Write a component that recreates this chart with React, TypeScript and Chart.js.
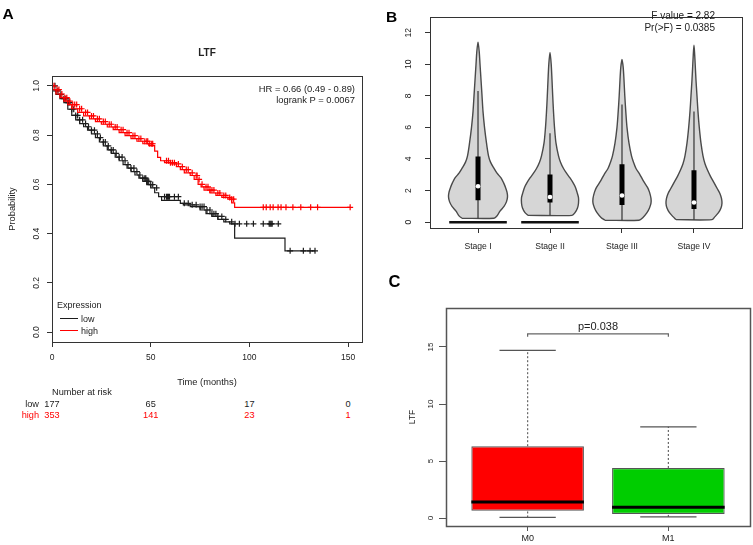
import React, { useEffect, useRef, useState } from "react";
import { Chart, registerables } from "chart.js";

Chart.register(...registerables);

const FONT = '"Liberation Sans", Arial, Helvetica, sans-serif';
const INK = "#222222";
Chart.defaults.font.family = FONT;

// ---------------- Panel A : Kaplan-Meier (LTF) ----------------
const kmXTicks = [0, 50, 100, 150];
const kmYTicks = [0, 0.2, 0.4, 0.6, 0.8, 1.0];

const lowTimes = [0, 2, 4, 6, 8, 10, 12, 14, 16, 18, 20, 22, 24, 26, 28, 30, 32, 34, 36, 38, 40, 42, 44, 46, 48, 50, 52, 54, 55.5, 65, 66.5, 70, 75, 78, 81, 84, 87, 90, 92.5, 118, 120, 133.2];
const lowSurv = [1, 0.98, 0.965, 0.948, 0.932, 0.905, 0.88, 0.862, 0.847, 0.834, 0.82, 0.805, 0.79, 0.772, 0.756, 0.74, 0.726, 0.711, 0.696, 0.68, 0.666, 0.652, 0.638, 0.625, 0.612, 0.599, 0.586, 0.566, 0.55, 0.535, 0.523, 0.517, 0.51, 0.496, 0.481, 0.47, 0.458, 0.448, 0.44, 0.382, 0.33, 0.33];

const highTimes = [0, 2, 4, 6, 8, 10, 13, 16, 19, 22, 25, 28, 31, 34, 37, 40, 43, 46, 49, 52, 53.5, 55, 57, 60, 63, 65, 67, 70, 72, 74, 75.5, 77, 80, 83, 86, 89, 91, 92.5, 94.5, 151];
const highSurv = [1, 0.985, 0.967, 0.952, 0.938, 0.924, 0.907, 0.892, 0.878, 0.866, 0.855, 0.844, 0.833, 0.822, 0.81, 0.798, 0.786, 0.775, 0.765, 0.757, 0.735, 0.71, 0.696, 0.688, 0.683, 0.672, 0.66, 0.647, 0.636, 0.62, 0.6, 0.59, 0.577, 0.565, 0.555, 0.547, 0.54, 0.525, 0.507, 0.507];

const lowCensor = [1.5, 3, 4.5, 6, 7, 8, 8.5, 9, 10, 11, 12, 13, 14, 15.5, 17, 18.5, 20, 21.5, 23, 24.5, 26, 27, 28.5, 30, 31, 32.5, 34, 35.5, 37, 38.5, 40, 41.5, 43, 44.5, 46, 47, 47.5, 48, 48.5, 49, 50, 51, 53, 57, 58, 58.5, 59, 59.5, 62, 64, 67, 69, 71, 73, 75, 76, 77, 78.5, 80, 81, 82, 83, 84, 86, 88, 91, 92.7, 94.9, 98.6, 102, 107, 110, 110.5, 111, 111.5, 114.6, 120.6, 127.3, 130.7, 133.2];
const highCensor = [1, 2.5, 3.5, 5, 6.5, 7.5, 9, 10.5, 11.5, 12.5, 14, 15, 17, 18, 20, 21, 23, 24, 26, 27, 29, 30, 32, 33, 35, 36, 38, 39, 41, 42, 44, 45, 47, 48, 48.5, 49.5, 50.5, 51, 58, 59, 60, 61, 62, 64, 66, 68, 69, 71, 73, 73.5, 74.5, 76, 78, 79, 80, 81, 82, 84, 85, 87, 88, 90, 91, 92, 107, 108.5, 110.5, 112, 114.5, 116, 118.5, 122, 126, 131, 134.5, 151];

const riskTimes = [0, 50, 100, 150];
const riskLow = [177, 65, 17, 0];
const riskHigh = [353, 141, 23, 1];

// ---------------- Panel B : violins by stage ----------------
const violinStages = ["Stage I", "Stage II", "Stage III", "Stage IV"];
const violinYTicks = [0, 2, 4, 6, 8, 10, 12];
const stage1Levels = [0.25, 0.4, 0.7, 1.0, 1.3, 1.6, 1.9, 2.2, 2.5, 2.8, 3.1, 3.4, 3.8, 4.2, 5.0, 6.0, 7.0, 8.0, 9.0, 10.0, 10.8, 11.4];
const stage1Density = [16, 19, 22, 26, 28.5, 29.5, 29, 27.5, 25.5, 23, 19, 16, 12.5, 10.5, 8.5, 6.5, 5, 4, 3, 2, 1.2, 0];
const stage2Levels = [0.43, 0.6, 0.9, 1.2, 1.55, 1.9, 2.2, 2.5, 2.8, 3.1, 3.4, 3.8, 4.2, 5.0, 6.0, 7.0, 8.0, 9.0, 10.0, 10.75];
const stage2Density = [22, 25, 27.5, 28.5, 28.5, 27, 25.5, 23, 20, 16.5, 13.5, 10.5, 8.5, 6, 4.5, 3.5, 2.7, 2, 1.2, 0];
const stage3Levels = [0.12, 0.3, 0.6, 0.9, 1.2, 1.5, 1.9, 2.2, 2.6, 3.0, 3.4, 3.8, 4.2, 5.0, 6.0, 7.0, 8.0, 9.0, 9.8, 10.3];
const stage3Density = [17, 21, 25, 27.5, 29, 29, 27.5, 25.5, 21.5, 18, 14, 11.5, 9.5, 7, 5, 3.8, 2.8, 2, 1.2, 0];
const stage4Levels = [0.16, 0.35, 0.6, 0.9, 1.2, 1.5, 1.8, 2.1, 2.5, 2.9, 3.3, 3.7, 4.2, 5.0, 6.0, 7.0, 8.0, 9.0, 10.0, 10.6, 11.2];
const stage4Density = [18, 21, 24.5, 27, 28, 27.5, 26, 23.5, 20, 16.5, 13.5, 11, 9, 7, 5.3, 4, 3, 2, 1.2, 0.7, 0];
const stageQ1 = [1.39, 1.24, 1.08, 0.84];
const stageQ3 = [4.16, 3.02, 3.66, 3.29];
const stageMedian = [2.27, 1.59, 1.69, 1.24];
const stageWhiskerHigh = [8.3, 5.63, 7.45, 7.0];
const stageZeroHalfWidth = [0.4, 0.4, 0, 0];

// ---------------- Panel C : boxplot M0 / M1 ----------------
const boxGroups = ["M0", "M1"];
const boxYTicks = [0, 5, 10, 15];
const boxQ1 = [0.64, 0.35];
const boxQ3 = [6.3, 4.39];
const boxMedian = [1.4, 0.94];
const boxLower = [0.05, 0.1];
const boxUpper = [14.7, 8.0];
const boxFill = ["#ff0000", "#00cd00"];
const pText = "p=0.038";
const bracketY = 16.15;
const bracketFootY = 15.9;
const pTextY = 16.85;

// ---------------- helpers ----------------
function survivalAt(times: number[], surv: number[], t: number) {
  let s = surv[0];
  for (let i = 0; i < times.length; i++) {
    if (times[i] <= t) s = surv[i];
    else break;
  }
  return s;
}

function framePlugin(color: string, width: number) {
  return {
    id: "frameBox",
    afterDatasetsDraw(chart: any) {
      const { ctx, chartArea: a } = chart;
      ctx.save();
      ctx.strokeStyle = color;
      ctx.lineWidth = width;
      ctx.strokeRect(Math.round(a.left) + 0.5, Math.round(a.top) + 0.5, Math.round(a.right - a.left), Math.round(a.bottom - a.top));
      ctx.restore();
    },
  };
}

function fixedTicks(values: number[]) {
  return (s: any) => {
    s.ticks = values.map((v) => ({ value: v }));
  };
}

function Txt(props: { x: number; y: number; size: number; children: any; align?: string; bold?: boolean; color?: string }) {
  const { x, y, size, children, align = "center", bold = false, color = INK } = props;
  const tx = align === "center" ? "-50%" : align === "right" ? "-100%" : "0";
  return (
    <div
      style={{
        position: "absolute",
        left: x,
        top: y,
        transform: `translate(${tx},-50%)`,
        fontFamily: FONT,
        fontSize: size,
        fontWeight: bold ? "bold" : "normal",
        color,
        whiteSpace: "nowrap",
        lineHeight: 1,
      }}
    >
      {children}
    </div>
  );
}

const baseOpts = {
  responsive: false,
  animation: false as const,
  devicePixelRatio: 1,
  events: [] as any[],
};

// ---------------- Panel A ----------------
function KMPanel() {
  const ref = useRef<HTMLCanvasElement>(null);
  const [riskX, setRiskX] = useState<number[]>([]);
  useEffect(() => {
    const LOW = "#1c1c1c";
    const HIGH = "#ff0000";
    const chart = new Chart(ref.current as HTMLCanvasElement, {
      type: "line",
      data: {
        datasets: [
          {
            label: "high censored",
            data: highCensor.map((t) => ({ x: t, y: survivalAt(highTimes, highSurv, t) })),
            showLine: false,
            pointStyle: "cross",
            pointRadius: 3,
            pointBorderWidth: 1.2,
            pointBorderColor: HIGH,
            borderColor: HIGH,
          },
          {
            label: "high",
            data: highTimes.map((t, i) => ({ x: t, y: highSurv[i] })),
            stepped: "after",
            borderColor: HIGH,
            borderWidth: 1.2,
            pointRadius: 0,
            fill: false,
          },
          {
            label: "low censored",
            data: lowCensor.map((t) => ({ x: t, y: survivalAt(lowTimes, lowSurv, t) })),
            showLine: false,
            pointStyle: "cross",
            pointRadius: 3,
            pointBorderWidth: 1.2,
            pointBorderColor: LOW,
            borderColor: LOW,
          },
          {
            label: "low",
            data: lowTimes.map((t, i) => ({ x: t, y: lowSurv[i] })),
            stepped: "after",
            borderColor: LOW,
            borderWidth: 1.2,
            pointRadius: 0,
            fill: false,
          },
        ] as any,
      },
      options: {
        ...baseOpts,
        layout: { padding: { left: 0, top: 0, right: 10, bottom: 0 } },
        plugins: {
          legend: { display: false },
          tooltip: { enabled: false },
          title: {
            display: true,
            text: "LTF",
            fullSize: false,
            color: INK,
            font: { family: FONT, size: 10, weight: "bold", lineHeight: 1.2 },
            padding: { top: 47, bottom: 17 },
          },
        },
        scales: {
          x: {
            type: "linear",
            min: 0,
            max: 157,
            offset: false,
            afterBuildTicks: fixedTicks(kmXTicks),
            afterFit: (s: any) => {
              s.height = 50;
            },
            ticks: { autoSkip: false, maxRotation: 0, padding: 6, color: INK, font: { family: FONT, size: 8.5 }, callback: (v: any) => String(v) },
            grid: { drawOnChartArea: false, drawTicks: true, tickLength: 5, color: "#333", lineWidth: 1 },
            border: { display: false },
            title: { display: true, text: "Time (months)", color: INK, font: { family: FONT, size: 9.3 }, padding: { top: 0, bottom: 4.4 } },
          },
          y: {
            type: "linear",
            min: -0.04,
            max: 1.04,
            afterBuildTicks: fixedTicks(kmYTicks),
            afterFit: (s: any) => {
              s.width = 52;
            },
            ticks: {
              autoSkip: false,
              minRotation: 90,
              maxRotation: 90,
              crossAlign: "center",
              padding: 4,
              color: INK,
              font: { family: FONT, size: 8.5 },
              callback: (v: any) => Number(v).toFixed(1),
            },
            grid: { drawOnChartArea: false, drawTicks: true, tickLength: 5, color: "#333", lineWidth: 1 },
            border: { display: false },
            title: { display: true, text: "Probability", color: INK, font: { family: FONT, size: 9.3 }, padding: { top: 7, bottom: 0 } },
          },
        },
      } as any,
      plugins: [framePlugin("#333", 1)],
    });
    setRiskX(riskTimes.map((t) => chart.scales.x.getPixelForValue(t)));
    return () => chart.destroy();
  }, []);
  return (
    <div style={{ position: "absolute", left: 0, top: 0, width: 372, height: 440 }}>
      <canvas ref={ref} width={372} height={392} style={{ position: "absolute", left: 0, top: 0, width: 372, height: 392 }} />
      <Txt x={8} y={14} size={15.5} bold color="#000">A</Txt>
      <Txt x={355} y={89} size={9.4} align="right">HR = 0.66 (0.49 - 0.89)</Txt>
      <Txt x={355} y={99.5} size={9.4} align="right">logrank P = 0.0067</Txt>
      <Txt x={57} y={305} size={9} align="left">Expression</Txt>
      <div style={{ position: "absolute", left: 60, top: 318.4, width: 18, height: 0, borderTop: "1.3px solid #1c1c1c" }} />
      <div style={{ position: "absolute", left: 60, top: 330.4, width: 18, height: 0, borderTop: "1.3px solid #ff0000" }} />
      <Txt x={81} y={319} size={9} align="left">low</Txt>
      <Txt x={81} y={331} size={9} align="left">high</Txt>
      <Txt x={52} y={393} size={9.2} align="left">Number at risk</Txt>
      <Txt x={39} y={404.5} size={9.2} align="right">low</Txt>
      <Txt x={39} y={416} size={9.2} align="right" color="#ff0000">high</Txt>
      {riskX.map((x, i) => (
        <Txt key={"l" + i} x={x} y={404.5} size={9.2}>{riskLow[i]}</Txt>
      ))}
      {riskX.map((x, i) => (
        <Txt key={"h" + i} x={x} y={416} size={9.2} color="#ff0000">{riskHigh[i]}</Txt>
      ))}
    </div>
  );
}

// ---------------- Panel B ----------------
const VIOLIN_UNIT = 1 / 72;
function violinPolygon(c: number, levels: number[], dens: number[]) {
  const pts: { x: number; y: number }[] = [];
  for (let k = 0; k < levels.length; k++) pts.push({ x: c - dens[k] * VIOLIN_UNIT, y: levels[k] });
  for (let k = levels.length - 2; k >= 0; k--) pts.push({ x: c + dens[k] * VIOLIN_UNIT, y: levels[k] });
  pts.push({ ...pts[0] });
  return pts;
}

function ViolinPanel() {
  const ref = useRef<HTMLCanvasElement>(null);
  useEffect(() => {
    const levels = [stage1Levels, stage2Levels, stage3Levels, stage4Levels];
    const dens = [stage1Density, stage2Density, stage3Density, stage4Density];
    const datasets: any[] = [];
    datasets.push({
      label: "median",
      data: stageMedian.map((m, i) => ({ x: i + 1, y: m })),
      showLine: false,
      pointRadius: 2.3,
      pointBorderWidth: 0,
      pointBackgroundColor: "#ffffff",
    });
    stageQ1.forEach((q, i) => {
      datasets.push({
        label: "iqr" + i,
        data: [
          { x: i + 1, y: q },
          { x: i + 1, y: stageQ3[i] },
        ],
        borderColor: "#000",
        borderWidth: 5,
        borderCapStyle: "butt",
        pointRadius: 0,
      });
    });
    stageQ1.forEach((_, i) => {
      datasets.push({
        label: "whisker" + i,
        data: [
          { x: i + 1, y: levels[i][0] },
          { x: i + 1, y: stageWhiskerHigh[i] },
        ],
        borderColor: "#333",
        borderWidth: 1.2,
        pointRadius: 0,
      });
    });
    stageZeroHalfWidth.forEach((h, i) => {
      if (h <= 0) return;
      datasets.push({
        label: "zero" + i,
        data: [
          { x: i + 1 - h, y: 0 },
          { x: i + 1 + h, y: 0 },
        ],
        borderColor: "#111",
        borderWidth: 2.5,
        pointRadius: 0,
      });
    });
    levels.forEach((lv, i) => {
      datasets.push({
        label: violinStages[i],
        data: violinPolygon(i + 1, lv, dens[i]),
        fill: "shape",
        backgroundColor: "#d6d6d6",
        borderColor: "#4a4a4a",
        borderWidth: 1.4,
        pointRadius: 0,
        tension: 0.3,
      });
    });
    const chart = new Chart(ref.current as HTMLCanvasElement, {
      type: "line",
      data: { datasets },
      options: {
        ...baseOpts,
        layout: { padding: { left: 0, top: 10, right: 11, bottom: 0 } },
        plugins: { legend: { display: false }, tooltip: { enabled: false } },
        scales: {
          x: {
            type: "linear",
            min: 0.333,
            max: 4.667,
            offset: false,
            afterBuildTicks: fixedTicks([1, 2, 3, 4]),
            afterFit: (s: any) => {
              s.height = 32;
            },
            ticks: { autoSkip: false, maxRotation: 0, padding: 8, color: INK, font: { family: FONT, size: 8.6 }, callback: (v: any) => violinStages[Math.round(v) - 1] },
            grid: { drawOnChartArea: false, drawTicks: true, tickLength: 5, color: "#333" },
            border: { display: false },
          },
          y: {
            type: "linear",
            min: -0.37,
            max: 12.98,
            afterBuildTicks: fixedTicks(violinYTicks),
            afterFit: (s: any) => {
              s.width = 60;
            },
            ticks: { autoSkip: false, minRotation: 90, maxRotation: 90, crossAlign: "center", padding: 12, color: INK, font: { family: FONT, size: 8.6 }, callback: (v: any) => String(v) },
            grid: { drawOnChartArea: false, drawTicks: true, tickLength: 5, color: "#333" },
            border: { display: false },
          },
        },
      } as any,
      plugins: [framePlugin("#333", 1)],
    });
    return () => chart.destroy();
  }, []);
  return (
    <div style={{ position: "absolute", left: 370, top: 0, width: 383, height: 260 }}>
      <canvas ref={ref} width={383} height={260} style={{ position: "absolute", left: 0, top: 0, width: 383, height: 260 }} />
      <Txt x={21.5} y={17} size={15.5} bold color="#000">B</Txt>
      <Txt x={345} y={16} size={10} align="right">F value = 2.82</Txt>
      <Txt x={345} y={28} size={10} align="right">Pr(&gt;F) = 0.0385</Txt>
    </div>
  );
}

// ---------------- Panel C ----------------
function BoxPanel() {
  const ref = useRef<HTMLCanvasElement>(null);
  const [pPos, setPPos] = useState<{ x: number; y: number } | null>(null);
  useEffect(() => {
    const datasets: any[] = [];
    boxMedian.forEach((m, i) => {
      datasets.push({
        type: "line",
        label: "median" + i,
        data: [
          { x: i + 1 - 0.4, y: m },
          { x: i + 1 + 0.4, y: m },
        ],
        borderColor: "#000",
        borderWidth: 3,
        borderCapStyle: "butt",
        pointRadius: 0,
        order: 0,
      });
    });
    datasets.push({
      type: "bar",
      label: "IQR",
      data: boxQ1.map((q, i) => ({ x: i + 1, y: [q, boxQ3[i]] })),
      backgroundColor: boxFill,
      borderColor: "#555",
      borderWidth: 1.2,
      borderSkipped: false,
      categoryPercentage: 0.8,
      barPercentage: 1,
      order: 5,
    });
    boxQ1.forEach((q, i) => {
      datasets.push({
        type: "line",
        label: "whiskerUp" + i,
        data: [
          { x: i + 1, y: boxQ3[i] },
          { x: i + 1, y: boxUpper[i] },
        ],
        borderColor: "#666",
        borderWidth: 1.2,
        borderDash: [2, 2],
        pointRadius: 0,
        order: 6,
      });
      datasets.push({
        type: "line",
        label: "whiskerDown" + i,
        data: [
          { x: i + 1, y: boxLower[i] },
          { x: i + 1, y: q },
        ],
        borderColor: "#666",
        borderWidth: 1.2,
        borderDash: [2, 2],
        pointRadius: 0,
        order: 6,
      });
      [boxUpper[i], boxLower[i]].forEach((v, k) => {
        datasets.push({
          type: "line",
          label: "cap" + i + k,
          data: [
            { x: i + 1 - 0.2, y: v },
            { x: i + 1 + 0.2, y: v },
          ],
          borderColor: "#555",
          borderWidth: 1.3,
          pointRadius: 0,
          order: 4,
        });
      });
    });
    datasets.push({
      type: "line",
      label: "bracket",
      data: [
        { x: 1, y: bracketFootY },
        { x: 1, y: bracketY },
        { x: 2, y: bracketY },
        { x: 2, y: bracketFootY },
      ],
      borderColor: "#666",
      borderWidth: 1.2,
      pointRadius: 0,
      order: 3,
    });
    const chart = new Chart(ref.current as HTMLCanvasElement, {
      type: "bar",
      data: { datasets },
      options: {
        ...baseOpts,
        layout: { padding: { left: 0, top: 48, right: 3, bottom: 0 } },
        plugins: { legend: { display: false }, tooltip: { enabled: false } },
        scales: {
          x: {
            type: "linear",
            min: 0.42,
            max: 2.58,
            offset: false,
            afterBuildTicks: fixedTicks([1, 2]),
            afterFit: (s: any) => {
              s.height = 19;
            },
            ticks: { autoSkip: false, maxRotation: 0, padding: 1.7, color: INK, font: { family: FONT, size: 9 }, callback: (v: any) => boxGroups[Math.round(v) - 1] },
            grid: { drawOnChartArea: false, drawTicks: true, tickLength: 5, color: "#555", offset: false },
            border: { display: false },
          },
          y: {
            type: "linear",
            min: -0.7,
            max: 18.42,
            afterBuildTicks: fixedTicks(boxYTicks),
            afterFit: (s: any) => {
              s.width = 76;
            },
            ticks: { autoSkip: false, minRotation: 90, maxRotation: 90, crossAlign: "center", padding: 3.5, color: INK, font: { family: FONT, size: 8 }, callback: (v: any) => String(v) },
            grid: { drawOnChartArea: false, drawTicks: true, tickLength: 7, color: "#555" },
            border: { display: false },
            title: { display: true, text: "LTF", color: INK, font: { family: FONT, size: 8.4 }, padding: { top: 38, bottom: 0 } },
          },
        },
      } as any,
      plugins: [framePlugin("#555", 1.5)],
    });
    setPPos({ x: chart.scales.x.getPixelForValue(1.5), y: chart.scales.y.getPixelForValue(pTextY) });
    return () => chart.destroy();
  }, []);
  return (
    <div style={{ position: "absolute", left: 370, top: 260, width: 383, height: 285 }}>
      <canvas ref={ref} width={383} height={285} style={{ position: "absolute", left: 0, top: 0, width: 383, height: 285 }} />
      <Txt x={24.5} y={21} size={16.5} bold color="#000">C</Txt>
      {pPos && (
        <Txt x={pPos.x} y={pPos.y} size={11}>{pText}</Txt>
      )}
    </div>
  );
}

export default function App() {
  return (
    <div style={{ position: "absolute", left: 0, top: 0, width: 753, height: 545, background: "#ffffff", overflow: "hidden" }}>
      <KMPanel />
      <ViolinPanel />
      <BoxPanel />
    </div>
  );
}
